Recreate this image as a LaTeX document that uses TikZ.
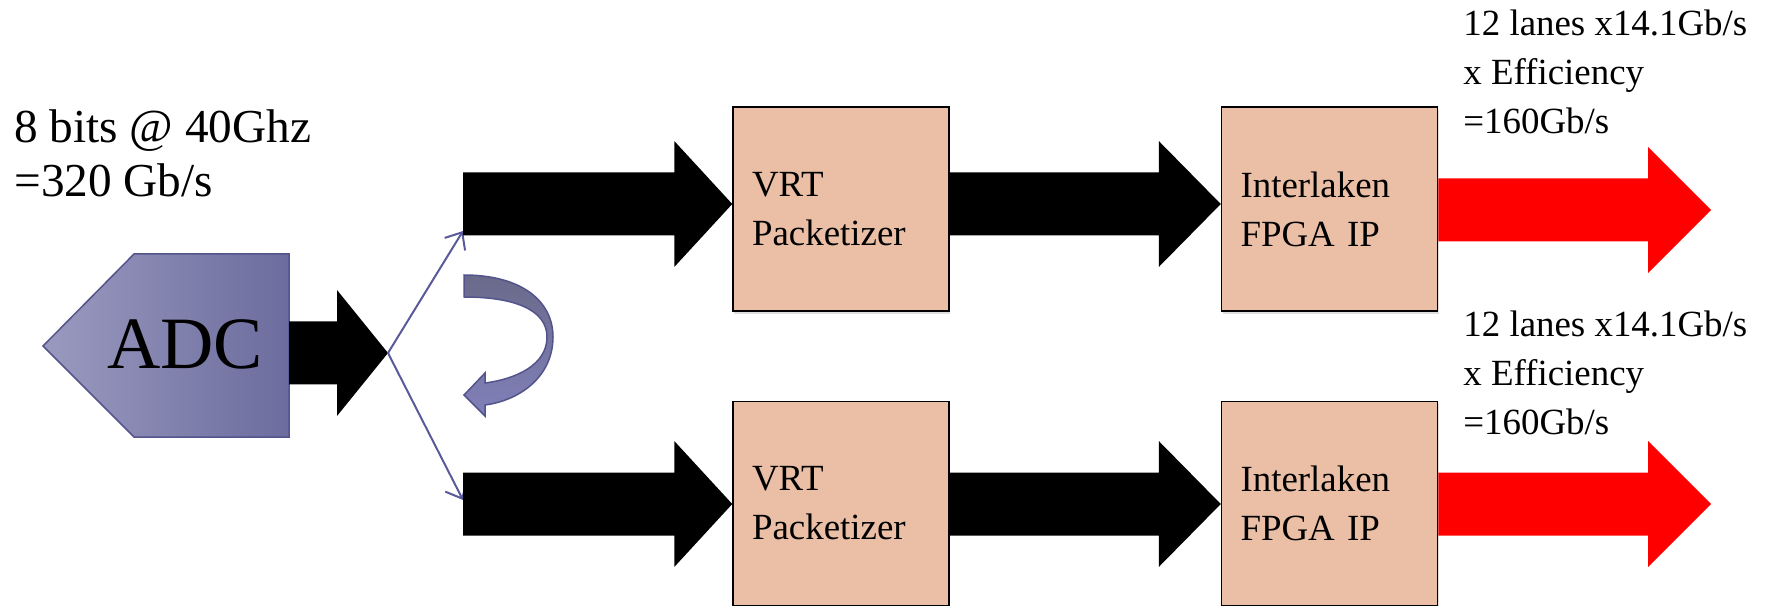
\documentclass[tikz,border=0pt]{standalone}
\usepackage{fontspec}
\setmainfont{Liberation Serif}
\usetikzlibrary{calc,arrows.meta,shadows}

\newlength{\du}
\setlength{\du}{0.2mm}

\definecolor{boxfill}{RGB}{235,191,166}
\definecolor{adclight}{RGB}{154,154,192}
\definecolor{adcdark}{RGB}{108,108,158}
\definecolor{adcline}{RGB}{84,84,140}
\definecolor{splitcolor}{RGB}{90,90,155}
\definecolor{turntop}{RGB}{106,106,138}
\definecolor{turnbot}{RGB}{128,128,186}

% block arrow: colour, head length, from, to
\newcommand{\blockarrow}[4]{%
\fill[#1] ($(#3)+(0,-31.5\du)$) -- ($(#4)+(-#2\du,-31.5\du)$) -- ($(#4)+(-#2\du,-63\du)$) -- (#4)
  -- ($(#4)+(-#2\du,63\du)$) -- ($(#4)+(-#2\du,31.5\du)$) -- ($(#3)+(0,31.5\du)$) -- cycle;}

\tikzset{
  procbox/.style={draw=black, line width=1.5\du, fill=boxfill, minimum width=216\du, minimum height=204\du,
    text width=178\du, inner xsep=19\du, align=left, font=\fontsize{21}{27.9}\selectfont,
    drop shadow={opacity=0.25, shadow xshift=1\du, shadow yshift=-3\du}},
  ratelabel/.style={anchor=base west, inner sep=0pt, font=\fontsize{21}{27.9}\selectfont},
  splitline/.style={draw=splitcolor, line width=0.4mm, -{Straight Barb[length=2.8mm,width=4.8mm]}},
}

\begin{document}
\begin{tikzpicture}
\pgftransformxscale{1.000000}
\pgftransformyscale{-1.000000}
\useasboundingbox (0\du,0\du) rectangle (1765\du,606\du);
% ADC block
\path[draw=adcline, line width=1.5\du, left color=adclight, right color=adcdark]
  (134\du,254\du) -- (289\du,254\du) -- (289\du,437\du) -- (134\du,437\du) -- (43\du,346\du) -- cycle;
\node[anchor=base west, inner sep=0pt, font=\fontsize{42}{50}\selectfont] (adc) at (107\du,369\du){ADC};
\coordinate (adcout) at (289\du,353\du);
\coordinate (split) at (388\du,353\du);
\blockarrow{black}{51}{adcout}{split}
% split lines
\coordinate (in1) at (463\du,204\du);
\coordinate (in2) at (463\du,504\du);
\coordinate (tip1) at (463\du,231\du);
\coordinate (tip2) at (463\du,500\du);
\draw[splitline] (split) -- (tip1);
\draw[splitline] (split) -- (tip2);
% turn-around arrow
\path[draw=adcline, line width=1.5\du, top color=turntop, bottom color=turnbot]
  (464\du,275\du) .. controls (520\du,275\du) and (553\du,300\du) .. (553\du,337\du)
  .. controls (553\du,375\du) and (522\du,400\du) .. (485\du,405\du)
  -- (485\du,416\du) -- (464\du,395\du) -- (485\du,373\du) -- (485\du,383\du)
  .. controls (516\du,379\du) and (547\du,365\du) .. (547\du,337\du)
  .. controls (547\du,310\du) and (515\du,297\du) .. (464\du,297\du) -- cycle;
% boxes
\node[procbox] (pack1) at (841\du,209\du){VRT\\Packetizer};
\node[procbox] (ilk1) at (1329.5\du,209\du){Interlaken\\FPGA IP};
\node[procbox] (pack2) at (841\du,503.5\du){VRT\\Packetizer};
\node[procbox] (ilk2) at (1329.5\du,503.5\du){Interlaken\\FPGA IP};
\coordinate (out1) at (1711\du,210\du);
\coordinate (out2) at (1711\du,504\du);
% top lane
\blockarrow{black}{58}{in1}{in1 -| pack1.west}
\blockarrow{black}{62}{pack1.east |- in1}{ilk1.west |- in1}
\blockarrow{red}{63}{ilk1.east |- out1}{out1}
% bottom lane
\blockarrow{black}{58}{in2}{in2 -| pack2.west}
\blockarrow{black}{62}{pack2.east |- in2}{ilk2.west |- in2}
\blockarrow{red}{63}{ilk2.east |- out2}{out2}
% labels
\node[anchor=base west, inner sep=0pt, font=\fontsize{26.9}{30.4}\selectfont] (bits) at (14\du,143\du){8 bits @ 40Ghz};
\node[anchor=base west, inner sep=0pt, font=\fontsize{26.9}{30.4}\selectfont] (total) at (14\du,197\du){=320 Gb/s};
\node[ratelabel] (lanes1) at (1463\du,36\du){12 lanes x14.1Gb/s};
\node[ratelabel] (eff1) at (1463\du,85\du){x Efficiency};
\node[ratelabel] (sum1) at (1463\du,134\du){=160Gb/s};
\node[ratelabel] (lanes2) at (1463\du,337\du){12 lanes x14.1Gb/s};
\node[ratelabel] (eff2) at (1463\du,386\du){x Efficiency};
\node[ratelabel] (sum2) at (1463\du,435\du){=160Gb/s};
\end{tikzpicture}
\end{document}
